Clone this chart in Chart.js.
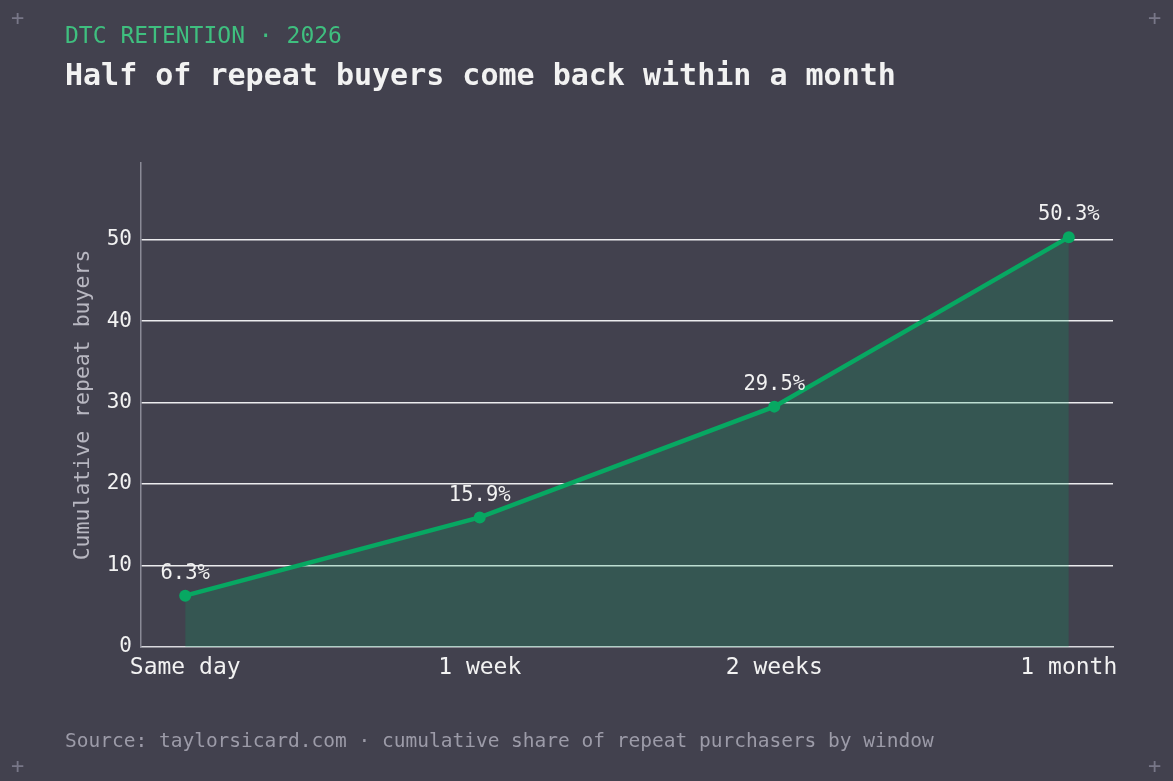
<!DOCTYPE html>
<html>
<head>
<meta charset="utf-8">
<script src="https://cdn.jsdelivr.net/npm/chart.js@4/dist/chart.umd.min.js"></script>
<style>
  html, body { margin:0; padding:0; background:#42414e; }
  body { width:1173px; height:781px; position:relative; overflow:hidden; font-family:"DejaVu Sans Mono", "Liberation Mono", monospace; }
  #wrap { position:absolute; left:0; top:0; width:1173px; height:781px; }
  .t { position:absolute; white-space:nowrap; line-height:1; }
  #kicker { left:65px; top:24px; font-size:23px; color:#3fbf7f; }
  #title { left:65px; top:60px; font-size:30px; color:#f2f2f2; font-weight:bold; }
  #foot { left:65px; top:731px; font-size:19.5px; color:#9c9ba8; }
  .plus { position:absolute; color:#787788; font-size:22px; line-height:1; }
</style>
</head>
<body>
<div id="wrap"><canvas id="c" width="1173" height="781"></canvas></div>
<div class="t" id="kicker">DTC RETENTION · 2026</div>
<div class="t" id="title">Half of repeat buyers come back within a month</div>
<div class="t" id="foot">Source: taylorsicard.com · cumulative share of repeat purchasers by window</div>
<div class="plus" style="left:11px;top:7px;">+</div>
<div class="plus" style="left:1148px;top:7px;">+</div>
<div class="plus" style="left:11px;top:755px;">+</div>
<div class="plus" style="left:1148px;top:755px;">+</div>
<script>
const categories = ["Same day", "1 week", "2 weeks", "1 month"];
const repeatShare = [6.3, 15.9, 29.5, 50.3];
const yTicks = [0, 10, 20, 30, 40, 50];

const FONT = '"DejaVu Sans Mono", "Liberation Mono", monospace';

const labelPlugin = {
  id: 'pointLabels',
  afterDatasetsDraw(chart) {
    const ctx = chart.ctx;
    const meta = chart.getDatasetMeta(0);
    ctx.save();
    ctx.font = '20.5px ' + FONT;
    ctx.fillStyle = '#f2f2f2';
    ctx.textAlign = 'center';
    ctx.textBaseline = 'middle';
    meta.data.forEach((pt, i) => {
      ctx.fillText(repeatShare[i].toFixed(1) + '%', pt.x, pt.y - 22);
    });
    ctx.restore();
  }
};

new Chart(document.getElementById('c'), {
  type: 'line',
  data: {
    datasets: [{
      data: repeatShare.map((v, i) => ({ x: i, y: v })),
      borderColor: '#07a862',
      borderWidth: 4.5,
      backgroundColor: 'rgba(6,168,98,0.2)',
      fill: 'origin',
      pointRadius: 6,
      pointBackgroundColor: '#07a862',
      pointBorderColor: '#07a862',
      pointBorderWidth: 0,
      tension: 0
    }]
  },
  options: {
    responsive: false,
    animation: false,
    devicePixelRatio: 1,
    layout: { padding: { left: 61, top: 163, right: 60, bottom: 94 } },
    plugins: { legend: { display: false }, tooltip: { enabled: false } },
    scales: {
      x: {
        type: 'linear',
        min: -0.15,
        max: 3.15,
        afterBuildTicks(scale) { scale.ticks = categories.map((c, i) => ({ value: i })); },
        afterFit(scale) { scale.height = 40; },
        grid: { display: false, drawTicks: false },
        border: { display: true, color: '#d9d9de', width: 1.5 },
        ticks: {
          padding: 7,
          color: '#f2f2f2',
          font: { family: FONT, size: 23 },
          maxRotation: 0,
          autoSkip: false,
          callback: (v) => categories[v]
        }
      },
      y: {
        min: 0,
        max: 59.4,
        afterBuildTicks(scale) { scale.ticks = yTicks.map(v => ({ value: v })); },
        afterFit(scale) { scale.width = 80; },
        grid: {
          drawTicks: false,
          color: (c) => c.tick && c.tick.value === 0 ? 'rgba(0,0,0,0)' : '#ececee',
          lineWidth: 1.5
        },
        border: { display: true, color: '#8a8a96', width: 1.5 },
        ticks: {
          padding: 9,
          color: '#f2f2f2',
          font: { family: FONT, size: 21 },
          callback: (v) => String(v)
        },
        title: {
          display: true,
          text: 'Cumulative repeat buyers',
          color: '#b8b7c1',
          font: { family: FONT, size: 21.5 },
          padding: { top: 10, bottom: 0 }
        }
      }
    }
  },
  plugins: [labelPlugin]
});
</script>
</body>
</html>
